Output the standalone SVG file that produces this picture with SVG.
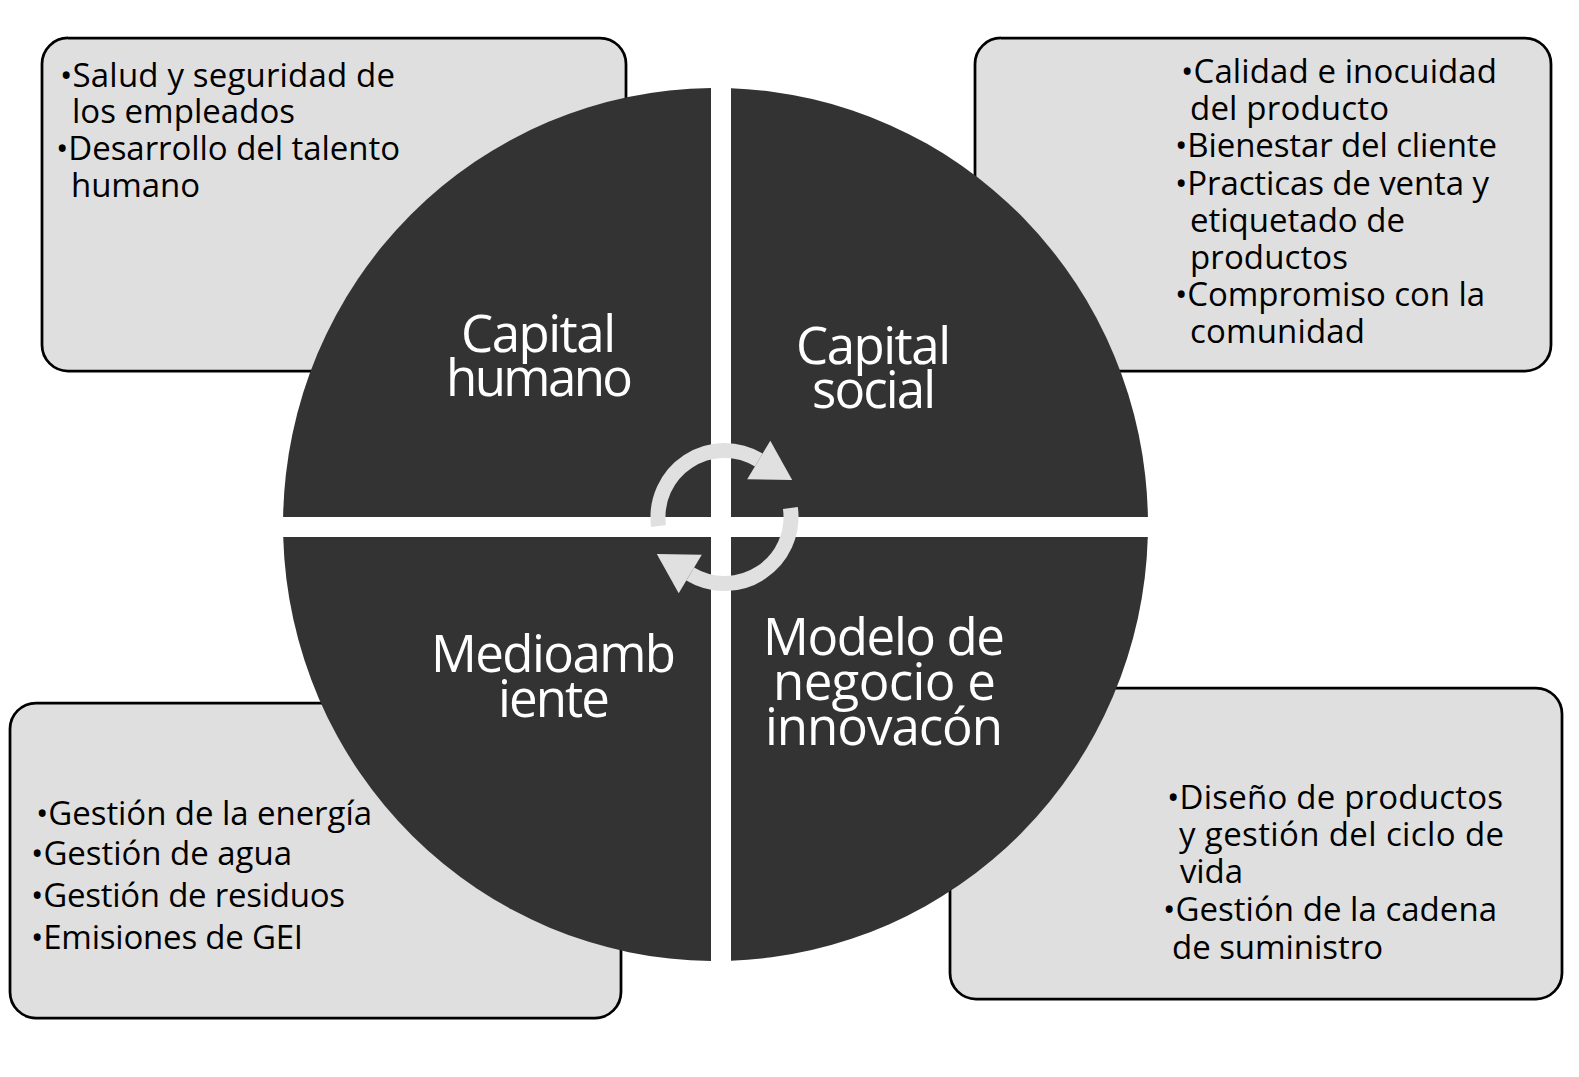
<svg xmlns="http://www.w3.org/2000/svg" width="1579" height="1077" viewBox="0 0 1579 1077">
  <style>
    .box { fill: #dfdfdf; stroke: #000; stroke-width: 2.75; }
    .quad { fill: #333333; }
    .item { font-family: "Open Sans", "Noto Sans", sans-serif; font-size: 33px; fill: #000; }
    .label { font-family: "Open Sans", "Noto Sans", sans-serif; font-size: 51px; fill: #fff; }
    .ring { fill: none; stroke: #e0e0e0; stroke-width: 15; stroke-linecap: butt; }
    .head { fill: #e0e0e0; }
  </style>
  <rect width="1579" height="1077" fill="#fff"/>

  <g id="box-capital-humano">
    <rect class="box" x="42" y="38" width="584" height="333" rx="26"/>
    <text class="item" lengthAdjust="spacingAndGlyphs">
      <tspan x="60" y="86.5" textLength="335">•Salud y seguridad de</tspan>
      <tspan x="72" y="123" textLength="223">los empleados</tspan>
      <tspan x="56" y="160" textLength="344">•Desarrollo del talento</tspan>
      <tspan x="71" y="197" textLength="129">humano</tspan>
    </text>
  </g>

  <g id="box-capital-social">
    <rect class="box" x="975" y="38" width="576" height="333" rx="26"/>
    <text class="item" lengthAdjust="spacingAndGlyphs">
      <tspan x="1181" y="83" textLength="316">•Calidad e inocuidad</tspan>
      <tspan x="1190" y="120" textLength="199">del producto</tspan>
      <tspan x="1175" y="157" textLength="322">•Bienestar del cliente</tspan>
      <tspan x="1175" y="195" textLength="314">•Practicas de venta y</tspan>
      <tspan x="1190" y="232" textLength="215">etiquetado de</tspan>
      <tspan x="1190" y="269" textLength="158">productos</tspan>
      <tspan x="1175" y="306" textLength="310">•Compromiso con la</tspan>
      <tspan x="1190" y="343" textLength="175">comunidad</tspan>
    </text>
  </g>

  <g id="box-medioambiente">
    <rect class="box" x="10" y="703" width="611" height="315" rx="26"/>
    <text class="item" lengthAdjust="spacingAndGlyphs">
      <tspan x="36" y="825" textLength="336">•Gestión de la energía</tspan>
      <tspan x="31" y="865" textLength="261">•Gestión de agua</tspan>
      <tspan x="31" y="906.5" textLength="314">•Gestión de residuos</tspan>
      <tspan x="31" y="949" textLength="272">•Emisiones de GEI</tspan>
    </text>
  </g>

  <g id="box-modelo-negocio">
    <rect class="box" x="950" y="688" width="612" height="311" rx="26"/>
    <text class="item" lengthAdjust="spacingAndGlyphs">
      <tspan x="1167" y="809" textLength="336">•Diseño de productos</tspan>
      <tspan x="1179" y="846" textLength="325">y gestión del ciclo de</tspan>
      <tspan x="1180" y="883" textLength="63">vida</tspan>
      <tspan x="1163" y="921" textLength="334">•Gestión de la cadena</tspan>
      <tspan x="1172" y="959" textLength="211">de suministro</tspan>
    </text>
  </g>

  <g id="quadrant-capital-humano">
    <path class="quad" d="M711,517 L283.1,517 A432.5,436.5 0 0 1 711,88 Z"/>
    <text class="label" lengthAdjust="spacingAndGlyphs">
      <tspan x="461" y="352" textLength="155">Capital</tspan>
      <tspan x="446" y="396" textLength="187">humano</tspan>
    </text>
  </g>

  <g id="quadrant-capital-social">
    <path class="quad" d="M731,517 L731,88.3 A432.5,436.5 0 0 1 1147.9,517 Z"/>
    <text class="label" lengthAdjust="spacingAndGlyphs">
      <tspan x="796" y="364" textLength="155">Capital</tspan>
      <tspan x="812" y="408" textLength="124">social</tspan>
    </text>
  </g>

  <g id="quadrant-medioambiente">
    <path class="quad" d="M711,537 L711,961 A432.5,436.5 0 0 1 283.2,537 Z"/>
    <text class="label" lengthAdjust="spacingAndGlyphs">
      <tspan x="431" y="672" textLength="245">Medioamb</tspan>
      <tspan x="498" y="717" textLength="112">iente</tspan>
    </text>
  </g>

  <g id="quadrant-modelo-negocio">
    <path class="quad" d="M731,537 L1147.8,537 A432.5,436.5 0 0 1 731,960.7 Z"/>
    <text class="label" lengthAdjust="spacingAndGlyphs">
      <tspan x="763" y="655" textLength="242">Modelo de</tspan>
      <tspan x="773" y="700" textLength="223">negocio e</tspan>
      <tspan x="765" y="745" textLength="238">innovacón</tspan>
    </text>
  </g>

  <g id="connectors">
    <path class="ring" d="M658.6,526 A66.5,66.5 0 0 1 758.8,460"/>
    <polygon class="head" points="747.2,479.2 770.3,440.8 792.2,480.1"/>
    <path class="ring" d="M790.4,508 A66.5,66.5 0 0 1 690.2,574"/>
    <polygon class="head" points="701.8,554.8 678.7,593.2 656.8,553.9"/>
  </g>
</svg>
